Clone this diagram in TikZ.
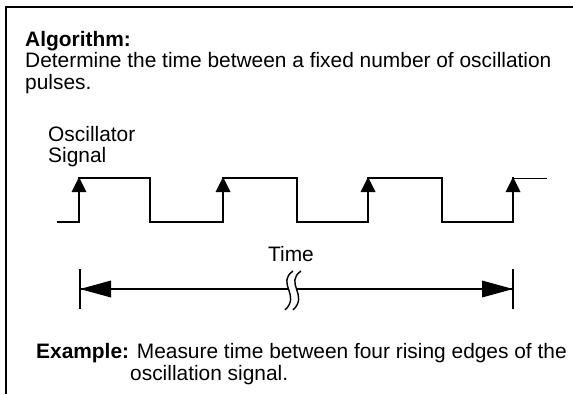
\documentclass[tikz,border=0pt]{standalone}
\usepackage{fontspec}
\setmainfont{Liberation Sans}
\begin{document}
\begin{tikzpicture}[x=1bp,y=-1bp,
  txt/.style={anchor=base west,inner sep=0pt,font=\fontsize{20.9bp}{21bp}\selectfont},
  sig/.style={line width=2bp,line join=miter,line cap=rect},
  tip/.style={fill=black,draw=none},
  frame/.style={line width=2bp}]
\useasboundingbox (0,0) rectangle (573,394);
% frame (only top and left visible)
\coordinate (ftr) at (573,7);
\coordinate (ftl) at (6,7);
\coordinate (fbl) at (6,394);
\draw[frame] (ftr) -- (ftl) -- (fbl);
% texts
\node[txt] (alg) at (25,46) {\textbf{Algorithm:}};
\node[txt] (det) at (25,67) {Determine the time between a fixed number of oscillation};
\node[txt] (pul) at (25,89) {pulses.};
\node[txt] (osc) at (48,141) {Oscillator};
\node[txt] (sgn) at (48,162.5) {Signal};
\node[txt,anchor=base] (time) at (291,261) {Time};
\node[txt] (ex1) at (36,358) {\textbf{Example:} Measure time between four rising edges of the};
\node[txt] (ex2) at (130,380) {oscillation signal.};
% signal
\draw[sig] (58,222) -- (79,222) -- (79,178) -- (150,178) -- (150,222) -- (223,222) -- (223,178)
  -- (297,178) -- (297,222) -- (368,222) -- (368,178) -- (442,178) -- (442,222) -- (513,222) -- (513,178);
\draw[line width=1.2bp] (513,178.5) -- (547,178.5);
\foreach \x in {79,223,368,513}{
  \fill[tip] (\x,177) -- (\x+7.5,192) -- (\x-7.5,192) -- cycle;
}
% time span
\coordinate (bl1) at (80,269); \coordinate (bl2) at (80,309);
\coordinate (br1) at (513,269); \coordinate (br2) at (513,309);
\draw[line width=2bp] (bl1) -- (bl2);
\draw[line width=2bp] (br1) -- (br2);
\coordinate (al) at (80,289); \coordinate (ar) at (513,289);
\coordinate (gl) at (288,289); \coordinate (gr) at (297,289);
\draw[line width=2bp] (al) -- (gl);
\draw[line width=2bp] (gr) -- (ar);
\fill[tip] (al) -- (111,280.5) -- (111,297.5) -- cycle;
\fill[tip] (ar) -- (482,280.5) -- (482,297.5) -- cycle;
% break symbol
\foreach \d in {0,8}{
  \draw[line width=1.4bp] (293+\d,271) .. controls (276+\d,283) and (301+\d,295) .. (285+\d,310);
}
\end{tikzpicture}
\end{document}
